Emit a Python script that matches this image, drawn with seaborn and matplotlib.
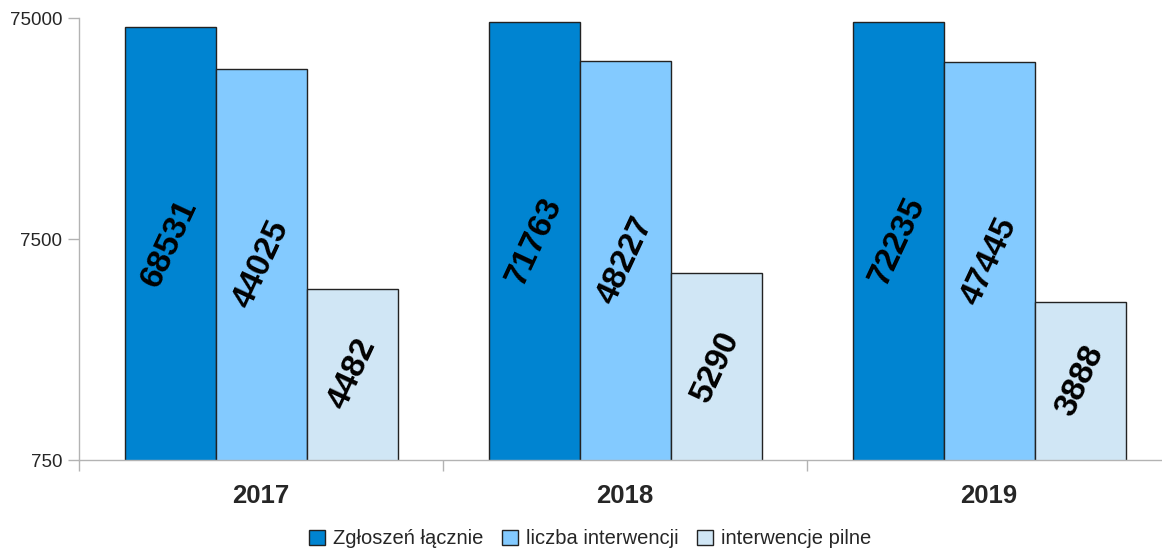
import matplotlib
matplotlib.use("Agg")
import matplotlib.pyplot as plt
import matplotlib.ticker as mticker
from matplotlib.patches import Patch
import seaborn as sns
import pandas as pd
import numpy as np

# dane
lata = ["2017", "2018", "2019"]
seria = ["Zgłoszeń łącznie", "liczba interwencji", "interwencje pilne"]
zgloszenia = [68531, 71763, 72235]
interwencje = [44025, 48227, 47445]
pilne = [4482, 5290, 3888]
kolory = ["#0084d1", "#83caff", "#d0e6f5"]
y_ticks = [750, 7500, 75000]

sns.set_theme(style="white")
plt.rcParams['font.family'] = ['Liberation Sans', 'DejaVu Sans']

df = pd.DataFrame({
    "rok": lata * 3,
    "seria": np.repeat(seria, 3),
    "wartosc": zgloszenia + interwencje + pilne,
})

fig = plt.figure(figsize=(11.62, 5.51), dpi=100)
ax = fig.add_axes([0.068, 0.165, 0.9398, 0.802])

sns.barplot(data=df, x="rok", y="wartosc", hue="seria", palette=kolory,
            width=0.75, edgecolor="#222222", linewidth=1.0, saturation=1,
            ax=ax, legend=False)

ax.set_yscale("log")
ax.set_ylim(y_ticks[0], y_ticks[-1])
ax.set_xlim(-0.5, 2.5)
ax.set_yticks(y_ticks)
ax.set_yticklabels([str(t) for t in y_ticks])
ax.yaxis.set_minor_locator(mticker.NullLocator())
ax.set_xlabel("")
ax.set_ylabel("")

# etykiety w srodku slupkow
for cont in ax.containers:
    for p in cont.patches:
        h = p.get_height()
        xc = p.get_x() + p.get_width() / 2
        yc = np.sqrt(y_ticks[0] * h)
        ax.text(xc, yc, f"{int(round(h))}", rotation=65, ha="center", va="center",
                fontsize=24, fontweight="bold", color="black")

szary = "#b3b3b3"
for s in ["top", "right"]:
    ax.spines[s].set_visible(False)
for s in ["left", "bottom"]:
    ax.spines[s].set_color(szary)
    ax.spines[s].set_linewidth(1.0)

ax.tick_params(axis="y", which="major", length=8, color=szary, width=1,
               labelsize=13.5, pad=4, left=True)
ax.tick_params(axis="x", which="major", length=0, labelsize=18.5, pad=17)
ax.set_xticks([-0.5, 0.5, 1.5, 2.5], minor=True)
ax.tick_params(axis="x", which="minor", length=8, color=szary, width=1, bottom=True)
for lab in ax.get_xticklabels():
    lab.set_fontweight("bold")

uchwyty = [Patch(facecolor=c, edgecolor="#222222", linewidth=1) for c in kolory]
fig.legend(uchwyty, seria, loc="center", bbox_to_anchor=(0.508, 0.022),
           ncol=3, frameon=False, fontsize=14.5, handlelength=0.8,
           handleheight=0.8, handletextpad=0.4, columnspacing=0.9)

fig.savefig("out.png", dpi=100)
